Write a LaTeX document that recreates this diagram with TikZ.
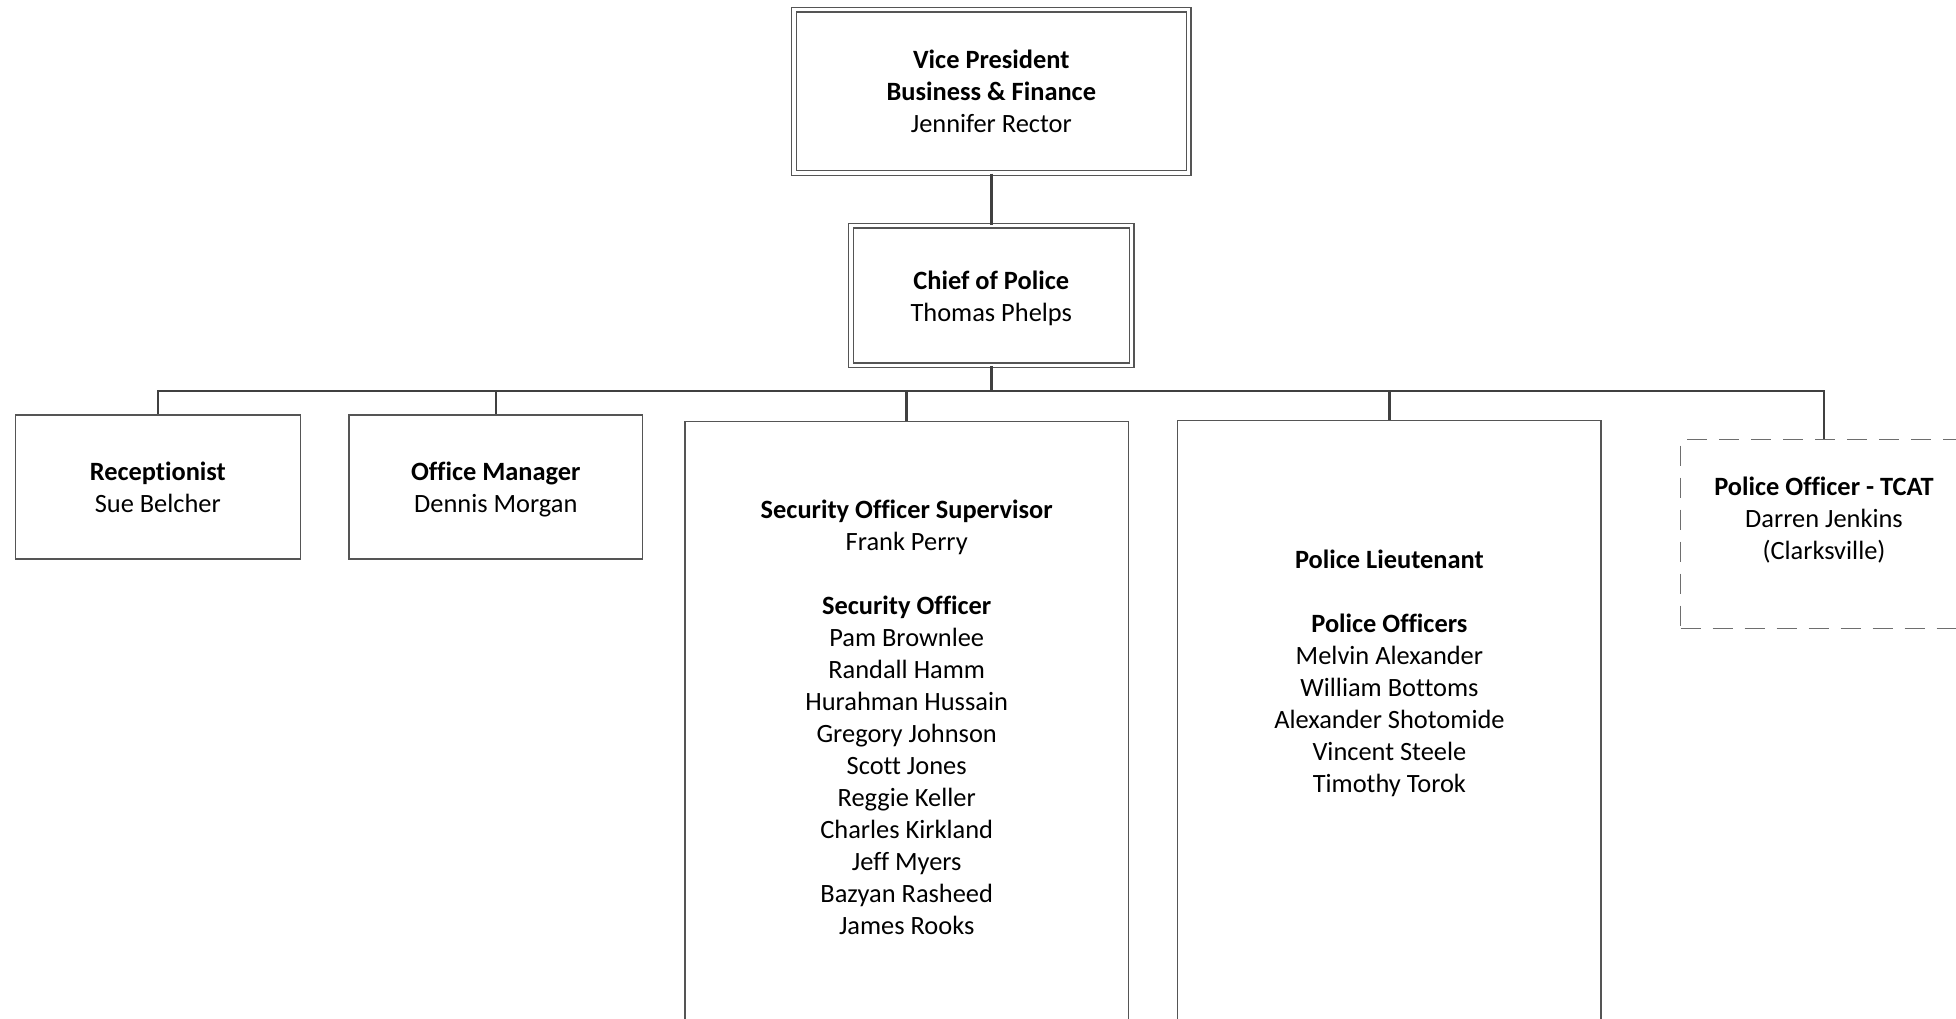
\documentclass[tikz,border=0pt]{standalone}
\usepackage{fontspec}
\setmainfont{Carlito}[Ligatures={NoCommon,NoContextual}]
\usepackage{tikz}
\usepackage{xcolor}
\definecolor{orgline}{RGB}{64, 64, 64}
\definecolor{orgframe}{RGB}{85, 85, 85}
\tikzset{
    orgtext/.style={align=center, inner sep=0pt, font=\fontsize{26.4}{32}\selectfont},
    orgbox/.style={rectangle, draw=orgframe, line width=1.2pt, inner sep=0pt, orgtext},
    headbox/.style={orgbox, double, double distance=3.3pt},
    dashbox/.style={orgbox, draw=orgframe!85, dash pattern=on 20pt off 12pt},
    link/.style={draw=orgline, line width=2.5pt}
}

\begin{document}
\begin{tikzpicture}[x=1pt, y=-1pt]
\useasboundingbox (0,0) rectangle (1956,1018);
% top of the chart
\node[headbox, minimum width=394.8pt, minimum height=163.2pt] (vp) at (991.3,91.4)
    {\textbf{Vice President}\\\textbf{Business \& Finance}\\Jennifer Rector};
\node[headbox, minimum width=280.9pt, minimum height=139.4pt] (chief) at (991.3,295.5) {};
\node[orgtext] (chieftext) at (991.3,298)
    {\textbf{Chief of Police}\\Thomas Phelps};
\coordinate (bus) at (991.3,391);
% staff under the chief
\node[orgbox, minimum width=285pt, minimum height=144pt] (recep) at (157.8,487)
    {\textbf{Receptionist}\\Sue Belcher};
\node[orgbox, minimum width=293.7pt, minimum height=144pt] (office) at (495.8,487) {};
\node[orgtext] (officetext) at (495.8,489.5)
    {\textbf{Office Manager}\\Dennis Morgan};
\node[orgbox, minimum width=443.3pt, minimum height=618.5pt] (security) at (906.7,730.75) {};
\node[orgtext] (securitytext) at (906.7,717)
    {\textbf{Security Officer Supervisor}\\Frank Perry\\[32pt]
     \textbf{Security Officer}\\Pam Brownlee\\Randall Hamm\\Hurahman Hussain\\Gregory Johnson\\
     Scott Jones\\Reggie Keller\\Charles Kirkland\\Jeff Myers\\Bazyan Rasheed\\James Rooks};
\node[orgbox, minimum width=423.3pt, minimum height=619.5pt] (lieut) at (1389.4,730.25) {};
\node[orgtext] (lieuttext) at (1389.4,673)
    {\textbf{Police Lieutenant}\\[32pt]
     \textbf{Police Officers}\\Melvin Alexander\\William Bottoms\\Alexander Shotomide\\
     Vincent Steele\\Timothy Torok};
\node[dashbox, minimum width=286.6pt, minimum height=188.8pt] (tcat) at (1824,533.9) {};
\node[orgtext] (tcattext) at (1824,520)
    {\textbf{Police Officer - TCAT}\\Darren Jenkins\\(Clarksville)};
% connectors
\draw[link] (vp) -- (chief);
\draw[link] (chief) -- (bus);
\draw[link] (bus) -| (recep);
\draw[link] (bus) -| (office);
\draw[link] (bus) -| (security);
\draw[link] (bus) -| (lieut);
\draw[link] (bus) -| (tcat);
\end{tikzpicture}
\end{document}
